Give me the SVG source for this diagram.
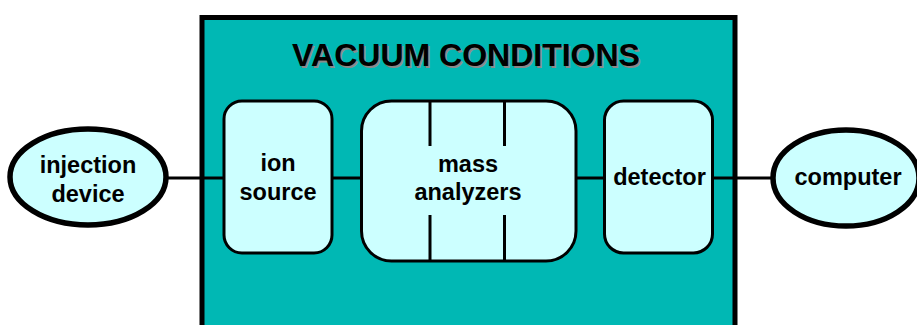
<svg xmlns="http://www.w3.org/2000/svg" width="917" height="325" viewBox="0 0 917 325">
<style>
.lbl{font-family:"Liberation Sans",Arial,sans-serif;font-weight:bold;font-size:23.5px;fill:#000;text-anchor:middle}
.title{font-family:"Liberation Sans",Arial,sans-serif;font-weight:bold;font-size:32px;text-anchor:middle}
.box{fill:#CCFFFF;stroke:#000;stroke-width:3}
.ell{fill:#CCFFFF;stroke:#000;stroke-width:5.5}
.conn{stroke:#000;stroke-width:3;fill:none}
</style>
<rect width="917" height="325" fill="#fff"/>
<g id="vacuum">
<rect x="202" y="17.5" width="533" height="320" fill="#00B8B4" stroke="#000" stroke-width="5"/>
<text class="title" x="467.5" y="67.5" fill="#8a8a8a">VACUUM CONDITIONS</text>
<text class="title" x="466" y="66" fill="#000">VACUUM CONDITIONS</text>
</g>
<g id="connectors">
<line class="conn" x1="166" y1="178" x2="224" y2="178"/>
<line class="conn" x1="332" y1="178" x2="361" y2="178"/>
<line class="conn" x1="576" y1="178" x2="604" y2="178"/>
<line class="conn" x1="712" y1="178" x2="771" y2="178"/>
</g>
<g id="injection-device">
<ellipse class="ell" cx="88" cy="177" rx="78" ry="48"/>
<text class="lbl" x="88" y="173">injection</text>
<text class="lbl" x="88" y="201.5">device</text>
</g>
<g id="ion-source">
<rect class="box" x="224" y="101" width="108" height="152" rx="18"/>
<text class="lbl" x="278" y="171">ion</text>
<text class="lbl" x="278" y="199.5">source</text>
</g>
<g id="mass-analyzers">
<rect class="box" x="361.5" y="101" width="214.5" height="160" rx="30"/>
<line class="conn" x1="430" y1="101" x2="430" y2="146"/>
<line class="conn" x1="504.5" y1="101" x2="504.5" y2="146"/>
<line class="conn" x1="430" y1="215" x2="430" y2="261"/>
<line class="conn" x1="504.5" y1="215" x2="504.5" y2="261"/>
<text class="lbl" x="468" y="171.5">mass</text>
<text class="lbl" x="468" y="200">analyzers</text>
</g>
<g id="detector">
<rect class="box" x="604.5" y="101" width="108" height="152" rx="19"/>
<text class="lbl" x="659.5" y="184.5">detector</text>
</g>
<g id="computer">
<ellipse class="ell" cx="846" cy="178" rx="73" ry="48"/>
<text class="lbl" x="848" y="184.5">computer</text>
</g>
</svg>
